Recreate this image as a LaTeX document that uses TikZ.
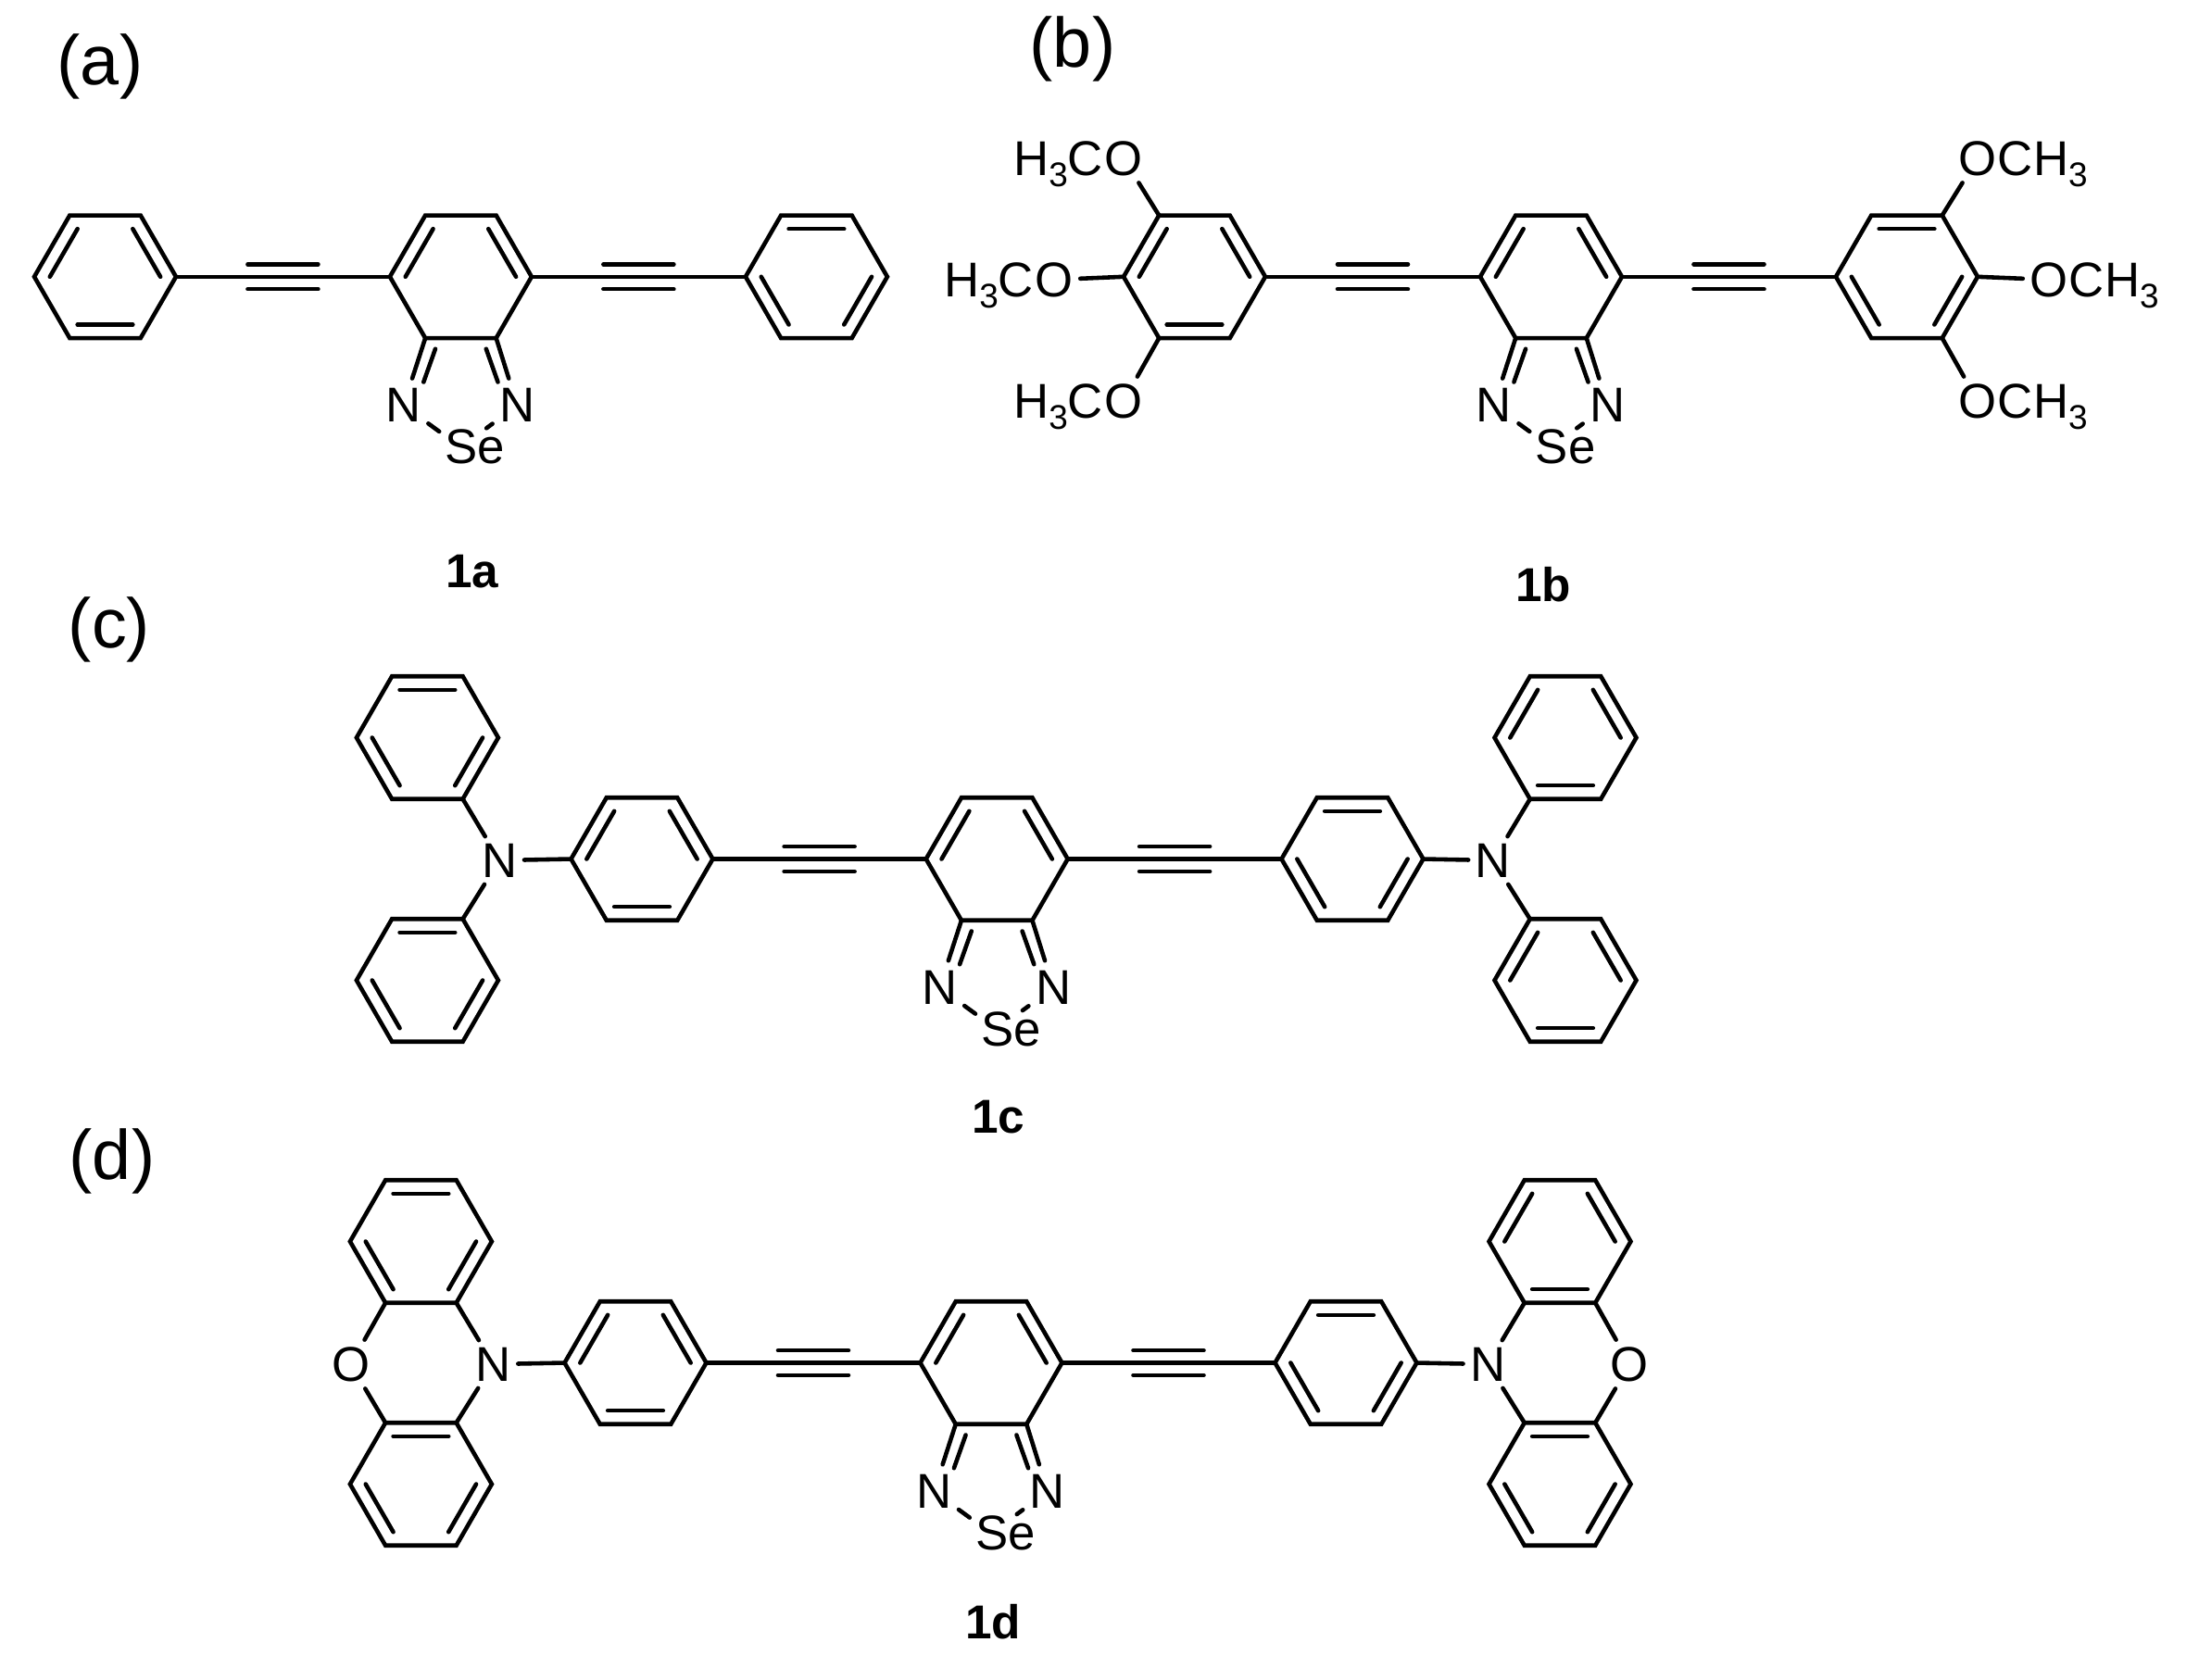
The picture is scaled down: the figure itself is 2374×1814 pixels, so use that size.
\documentclass[tikz,border=0pt]{standalone}
\usepackage{fontspec}
\setmainfont{Liberation Sans}
\usetikzlibrary{calc}

\tikzset{
  bond/.style={line width=1.3pt, line cap=round, line join=miter},
  atom/.style={inner xsep=2pt, inner ysep=2pt, font=\fontsize{15}{17}\selectfont},
  group/.style={inner sep=0pt, font=\fontsize{15}{17}\selectfont},
  panel/.style={inner sep=0pt, font=\fontsize{21.5}{24}\selectfont},
  compound/.style={inner sep=0pt, font=\fontsize{14.6}{17}\selectfont\bfseries}
}
\newcommand{\subthree}{\raisebox{-3.4pt}{\fontsize{10.5}{10.5}\selectfont 3}}

% ring: name, centre, edges with an inner line
\newcommand{\benzring}[3]{
  \coordinate (#1c) at (#2);
  \foreach \k/\ang in {1/0,2/60,3/120,4/180,5/240,6/300} {
    \coordinate (#1\k) at ($(#1c)+(\ang:76.5)$);
  }
  \draw[bond] (#11) -- (#12) -- (#13) -- (#14) -- (#15) -- (#16) -- cycle;
  \foreach \k/\j in {#3} {
    \draw[bond] ($(#1c)!0.78!(#1\k)$) -- ($(#1c)!0.78!(#1\j)$);
  }
}
% triple bond between two ring corners
\newcommand{\alkyne}[2]{
  \draw[bond] (#1) -- (#2);
  \draw[bond] ($(#1)!0.5!(#2)+(-38,-13.4)$) -- +(76,0);
  \draw[bond] ($(#1)!0.5!(#2)+(-38,13.4)$) -- +(76,0);
}
% N-Se-N ring under a ring
\newcommand{\selenring}[1]{
  \node[atom] (#1n) at ($(#1c)+(-61.8,139)$) {N};
  \node[atom] (#1m) at ($(#1c)+(61,139)$) {N};
  \node[atom] (#1se) at ($(#1c)+(15.6,184)$) {Se};
  \coordinate (#1s) at ($(#1c)+(0,184)$);
  \draw[bond,shorten >=0.035cm] (#13) -- (#1n);
  \draw[bond,shorten >=0.035cm] (#12) -- (#1m);
  \draw[bond] ($(#1c)+(-27.4,77.9)$) -- ($(#1c)+(-40.1,113.7)$);
  \draw[bond] ($(#1c)+(27.4,77.9)$) -- ($(#1c)+(40.1,113.7)$);
  \draw[bond,shorten >=0.287cm] (#1n) -- (#1s);
  \draw[bond,shorten >=0.345cm] (#1m) -- (#1s);
}

\begin{document}
\begin{tikzpicture}[x=0.01cm,y=-0.01cm]
\fill[white] (0,0) rectangle (2374,1814);
\useasboundingbox (0,0) rectangle (2374,1814);

% Panel a
\begin{scope}
\node[panel] (labelA) at (108,72) {(a)};
\benzring{aL}{113.5,298.8}{4/5,6/1,2/3}
\benzring{aM}{497.4,298.8}{4/5,6/1}
\benzring{aR}{881.4,298.8}{5/6,3/4,1/2}
\alkyne{aL1}{aM4}
\alkyne{aM1}{aR4}
\selenring{aM}
\node[compound] (nameA) at (510,617) {1a};
\end{scope}

% Panel b
\begin{scope}
\node[panel] (labelB) at (1158,53) {(b)};
\benzring{bL}{1289.5,298.8}{4/5,6/1,2/3}
\benzring{bM}{1674.5,298.8}{4/5,6/1}
\benzring{bR}{2058.5,298.8}{5/6,3/4,1/2}
\alkyne{bL1}{bM4}
\alkyne{bM1}{bR4}
\selenring{bM}
\node[atom] (oLa) at (1213,171) {O};
\node[atom] (oLb) at (1138,302) {O};
\node[atom] (oLc) at (1213,433) {O};
\node[atom] (oRa) at (2135,171) {O};
\node[atom] (oRb) at (2212,302) {O};
\node[atom] (oRc) at (2135,433) {O};
\foreach \n in {oLa,oLb,oLc} {
  \node[group,anchor=base east] (\n m) at ($(\n.base west)+(7,0)$) {H\subthree C};
}
\foreach \n in {oRa,oRb,oRc} {
  \node[group,anchor=base west] (\n m) at ($(\n.base east)+(-7,0)$) {CH\subthree};
}
\draw[bond] (bL5) -- (oLa);
\draw[bond] (bL4) -- (oLb);
\draw[bond] (bL3) -- (oLc);
\draw[bond] (bR6) -- (oRa);
\draw[bond] (bR1) -- (oRb);
\draw[bond] (bR2) -- (oRc);
\node[compound] (nameB) at (1666,631) {1b};
\end{scope}

% Panel c
\begin{scope}
\node[panel] (labelC) at (118,680) {(c)};
\benzring{cTL}{461.4,796.5}{5/6,3/4,1/2}
\benzring{cBL}{461.4,1058.5}{5/6,3/4,1/2}
\benzring{cL}{693,927.5}{4/5,6/1,2/3}
\benzring{cM}{1076.2,927.5}{4/5,6/1}
\benzring{cR}{1460,927.5}{5/6,3/4,1/2}
\benzring{cTR}{1690,796.5}{4/5,6/1,2/3}
\benzring{cBR}{1690,1058.5}{4/5,6/1,2/3}
\alkyne{cL1}{cM4}
\alkyne{cM1}{cR4}
\selenring{cM}
\node[atom] (nCL) at (539.2,929) {N};
\node[atom] (nCR) at (1612,929) {N};
\draw[bond] (cTL2) -- (nCL);
\draw[bond] (cBL6) -- (nCL);
\draw[bond] (cL4) -- (nCL);
\draw[bond] (cTR3) -- (nCR);
\draw[bond] (cBR5) -- (nCR);
\draw[bond] (cR1) -- (nCR);
\node[compound] (nameC) at (1078,1206) {1c};
\end{scope}

% Panel d
\begin{scope}
\node[panel] (labelD) at (121,1254) {(d)};
\benzring{dTL}{454.4,1340.5}{5/6,3/4,1/2}
\benzring{dBL}{454.4,1602.5}{5/6,3/4,1/2}
\benzring{dL}{686,1471.5}{4/5,6/1,2/3}
\benzring{dM}{1070,1471.5}{4/5,6/1}
\benzring{dR}{1453,1471.5}{5/6,3/4,1/2}
\benzring{dTR}{1684,1340.5}{4/5,6/1,2/3}
\benzring{dBR}{1684,1602.5}{5/6,3/4,1/2}
\alkyne{dL1}{dM4}
\alkyne{dM1}{dR4}
\selenring{dM}
\node[atom] (nDL) at (532.5,1473) {N};
\node[atom] (oDL) at (378.6,1473) {O};
\node[atom] (nDR) at (1606.3,1473) {N};
\node[atom] (oDR) at (1759.5,1473) {O};
\draw[bond] (dTL2) -- (nDL);
\draw[bond] (dBL6) -- (nDL);
\draw[bond] (dTL3) -- (oDL);
\draw[bond] (dBL5) -- (oDL);
\draw[bond] (dL4) -- (nDL);
\draw[bond] (dTR3) -- (nDR);
\draw[bond] (dBR5) -- (nDR);
\draw[bond] (dTR2) -- (oDR);
\draw[bond] (dBR6) -- (oDR);
\draw[bond] (dR1) -- (nDR);
\node[compound] (nameD) at (1072,1751) {1d};
\end{scope}
\end{tikzpicture}
\end{document}
